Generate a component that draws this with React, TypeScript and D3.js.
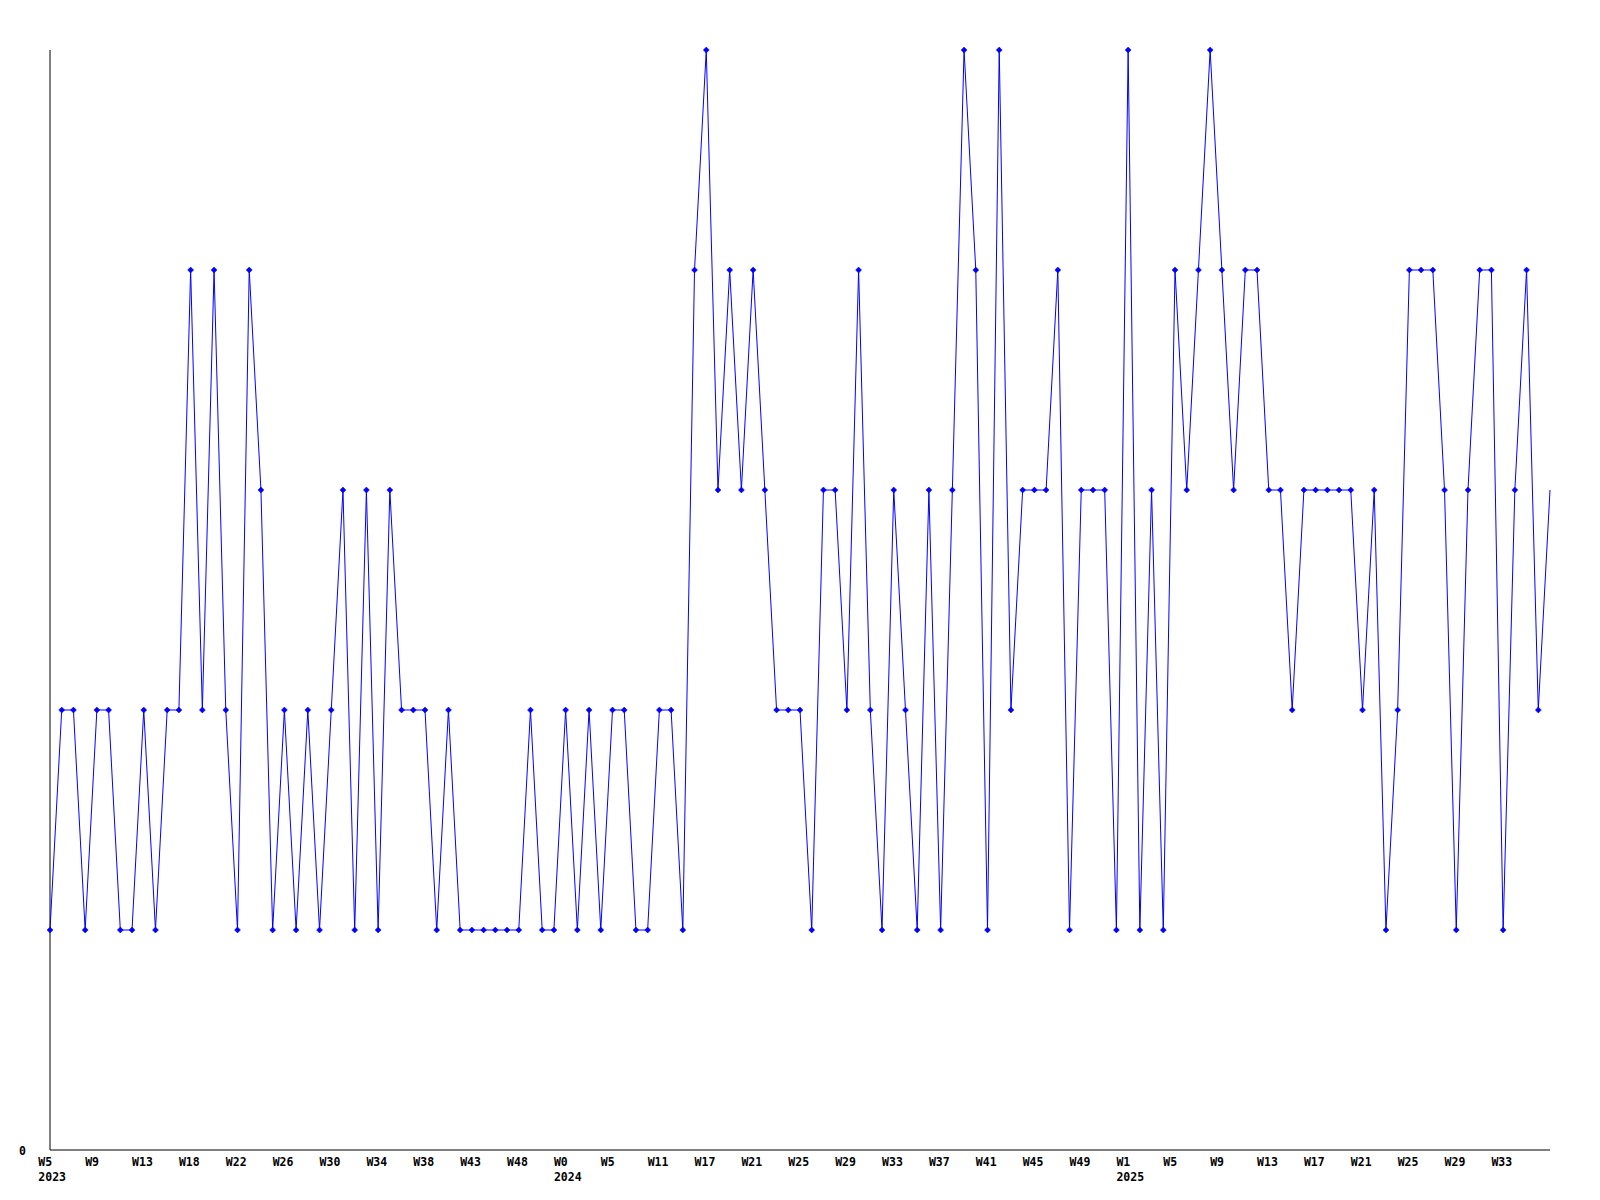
import React from 'react'
import * as d3 from 'd3'

// one value per sample, levels 0..5
const values: number[] = [
    1, 2, 2, 1, 2, 2, 1, 1, 2, 1, 2, 2, 4, 2, 4, 2, 1, 4, 3, 1,
    2, 1, 2, 1, 2, 3, 1, 3, 1, 3, 2, 2, 2, 1, 2, 1, 1, 1, 1, 1,
    1, 2, 1, 1, 2, 1, 2, 1, 2, 2, 1, 1, 2, 2, 1, 4, 5, 3, 4, 3,
    4, 3, 2, 2, 2, 1, 3, 3, 2, 4, 2, 1, 3, 2, 1, 3, 1, 3, 5, 4,
    1, 5, 2, 3, 3, 3, 4, 1, 3, 3, 3, 1, 5, 1, 3, 1, 4, 3, 4, 5,
    4, 3, 4, 4, 3, 3, 2, 3, 3, 3, 3, 3, 2, 3, 1, 2, 4, 4, 4, 3,
    1, 3, 4, 4, 1, 3, 4, 2, 3
]

// a label is written at every 4th sample
const labelEvery = 4
const weekLabels: string[] = [
    'W5', 'W9', 'W13', 'W18', 'W22', 'W26', 'W30', 'W34', 'W38', 'W43', 'W48',
    'W0', 'W5', 'W11', 'W17', 'W21', 'W25', 'W29', 'W33', 'W37', 'W41', 'W45', 'W49',
    'W1', 'W5', 'W9', 'W13', 'W17', 'W21', 'W25', 'W29', 'W33'
]
const yearLabels: string[] = [
    '2023', '', '', '', '', '', '', '', '', '', '',
    '2024', '', '', '', '', '', '', '', '', '', '', '',
    '2025', '', '', '', '', '', '', '', ''
]

const yMax = 5
const yTicks: number[] = [0]

const App = () => {
    const width = 1600
    const height = 1200
    const margin = { top: 50, right: 50, bottom: 50, left: 50 }

    const x = d3.scaleLinear()
        .domain([0, values.length - 1])
        .range([margin.left, width - margin.right])
    const y = d3.scaleLinear()
        .domain([0, yMax])
        .range([height - margin.bottom, margin.top])

    const step = x(1) - x(0)
    const line = d3.line<number>()
        .x((d, i) => x(i))
        .y(d => y(d))

    const font = '"DejaVu Sans Mono", "Liberation Mono", monospace'
    const blue = '#0000ff'

    return (
        <svg width={width} height={height}
             style={{ position: 'absolute', left: 0, top: 0, background: '#fff' }}>
            <line x1={x(0)} x2={x(0)} y1={y(yMax)} y2={y(0)} stroke="black" />
            <line x1={x(0)} x2={x(values.length - 1)} y1={y(0)} y2={y(0)} stroke="black" />

            {yTicks.map(t => (
                <text key={`yt-${t}`} x={x(0) - 24} y={y(t) + 5} textAnchor="end"
                      fontFamily={font} fontWeight="bold" fontSize={11.5}>{t}</text>
            ))}

            {weekLabels.map((w, k) => {
                const xp = x(k * labelEvery) - step
                return (
                    <g key={`xl-${k}`}>
                        <text x={xp} y={y(0) + 15.5} fontFamily={font} fontWeight="bold" fontSize={11.5}>{w}</text>
                        {yearLabels[k] !== '' &&
                            <text x={xp} y={y(0) + 30.5} fontFamily={font} fontWeight="bold" fontSize={11.5}>{yearLabels[k]}</text>}
                    </g>
                )
            })}

            <path d={line(values) || ''} fill="none" stroke={blue} strokeWidth={1} />

            {values.map((v, i) => i < values.length - 1 && (
                <path key={`pt-${i}`}
                      d={`M${x(i) - 3},${y(v)}L${x(i)},${y(v) - 3}L${x(i) + 3},${y(v)}L${x(i)},${y(v) + 3}Z`}
                      fill={blue} stroke={blue} strokeWidth={0.5} />
            ))}
        </svg>
    )
}

export default App
